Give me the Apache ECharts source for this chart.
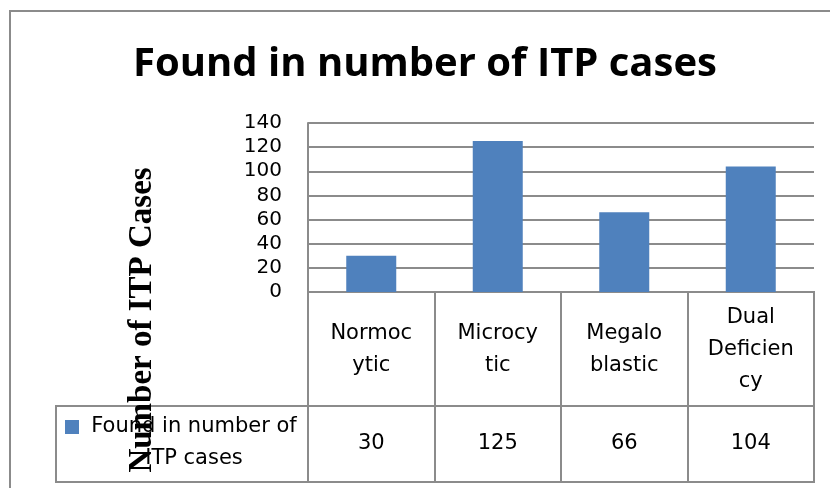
<!doctype html>
<html style="width: 100%; height: 100%"><head><meta charset="utf-8"></head>
<body style="width: 100%; height: 100%; margin: 0">
<div id="container" style="width: 830px; height: 488px"></div>
<script type="text/javascript" src="https://cdn.jsdelivr.net/npm/echarts@6/dist/echarts.min.js"></script>
<script type="text/javascript">
var categories = ['Normocytic', 'Microcytic', 'Megaloblastic', 'Dual Deficiency'];
var tickLabels = ['Normoc\nytic', 'Microcy\ntic', 'Megalo\nblastic', 'Dual\nDeficien\ncy'];
var values = [30, 125, 66, 104];
var seriesName = 'Found in number of ITP cases';
var yTicks = [0, 20, 40, 60, 80, 100, 120, 140];

var gray = '#8b8b8b';
var font = '"DejaVu Sans"';
var dom = document.getElementById('container');
var myChart = echarts.init(dom);

// table rows sit under the plot, same x range
function tableAxis(idx) {
    return {
        type: 'category', gridIndex: idx, data: categories,
        axisLine: {show: false}, axisTick: {show: false}, axisLabel: {show: false},
        splitLine: {show: true, interval: 0, lineStyle: {color: gray, width: 2}}
    };
}
function hiddenY(idx) {
    return {type: 'value', gridIndex: idx, min: 0, max: 1, show: false};
}

var option = {
    backgroundColor: '#fff',
    animation: false,
    title: {
        text: 'Found in number of ITP cases',
        left: 133, top: 45, padding: 0,
        textStyle: {fontFamily: '"Open Sans"', fontWeight: 'bold', fontSize: 40, color: '#000'}
    },
    legend: {
        data: [seriesName],
        left: 65, top: 385, padding: 0,
        icon: 'rect', itemWidth: 14, itemHeight: 14, itemGap: 5,
        formatter: function (name) {
            return '{e| }\n{a|Found in number of}\n{a|ITP cases}';
        },
        textStyle: {
            rich: {
                e: {fontSize: 20, lineHeight: 32, width: 220},
                a: {fontFamily: font, fontSize: 21, lineHeight: 32, width: 220, align: 'center', color: '#000'}
            }
        }
    },
    grid: [
        {left: 308, top: 123, width: 506, height: 169},
        {left: 308, top: 292, width: 506, height: 114, show: true, borderColor: gray, borderWidth: 2},
        {left: 308, top: 406, width: 506, height: 76, show: true, borderColor: gray, borderWidth: 2}
    ],
    xAxis: [
        {
            type: 'category', gridIndex: 0, data: categories,
            axisLine: {show: true, lineStyle: {color: gray, width: 2}},
            axisTick: {show: false},
            axisLabel: {
                interval: 0, margin: 58, verticalAlign: 'middle',
                fontFamily: font, fontSize: 21, lineHeight: 32, color: '#000',
                formatter: function (v, i) { return tickLabels[i]; }
            }
        },
        tableAxis(1),
        tableAxis(2)
    ],
    yAxis: [
        {
            type: 'value', gridIndex: 0, min: yTicks[0], max: yTicks[yTicks.length - 1], interval: 20,
            axisLine: {show: true, lineStyle: {color: gray, width: 2}},
            axisTick: {show: false},
            axisLabel: {margin: 26, fontFamily: font, fontSize: 20, color: '#000', lineHeight: 24},
            splitLine: {lineStyle: {color: gray, width: 2}}
        },
        hiddenY(1),
        hiddenY(2)
    ],
    series: [
        {
            name: seriesName, type: 'bar', xAxisIndex: 0, yAxisIndex: 0,
            data: values, barWidth: 50,
            itemStyle: {color: '#4f81bd'}
        },
        {
            name: 'table', type: 'scatter', xAxisIndex: 2, yAxisIndex: 2,
            symbolSize: 1, itemStyle: {color: '#fff', opacity: 1}, silent: true,
            data: values.map(function (v, i) { return [i, 0.5, v]; }),
            label: {
                show: true, position: 'inside', opacity: 1,
                fontFamily: font, fontSize: 21, color: '#000',
                formatter: function (p) { return p.value[2]; }
            }
        }
    ],
    graphic: [
        {type: 'rect', shape: {x: 10, y: 11, width: 840, height: 500}, style: {fill: null, stroke: gray, lineWidth: 2}, z: -1},
        {type: 'rect', shape: {x: 56, y: 406, width: 252, height: 76}, style: {fill: null, stroke: gray, lineWidth: 2}},
        {
            type: 'text', x: 142, y: 320, rotation: Math.PI / 2, z: 100,
            style: {
                text: 'Number of ITP Cases', align: 'center', verticalAlign: 'middle',
                font: 'bold 33px "Liberation Serif"', fill: '#000'
            }
        }
    ]
};
myChart.setOption(option);
</script>
</body></html>
